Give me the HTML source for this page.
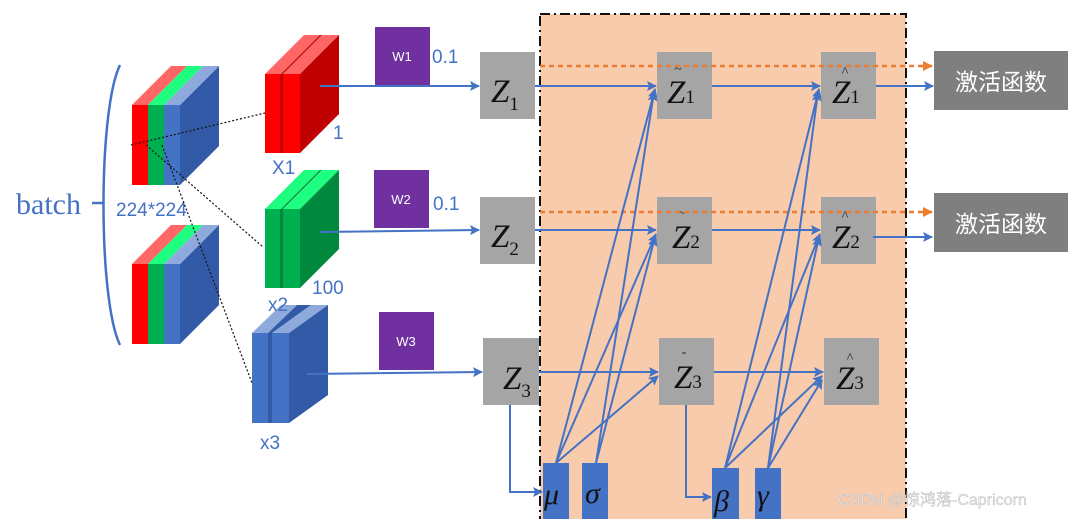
<!DOCTYPE html>
<html><head><meta charset="utf-8"><style>
html,body{margin:0;padding:0;background:#fff;}
svg{display:block;}
.z{font-family:"Liberation Serif",serif;font-style:italic;font-size:33px;fill:#111;}
.zs{font-family:"Liberation Serif",serif;font-size:19px;fill:#111;font-style:normal;}
.lbl{font-family:"Liberation Sans",sans-serif;font-size:19px;fill:#4472C4;}
</style></head><body>
<svg width="1073" height="519" viewBox="0 0 1073 519" xmlns="http://www.w3.org/2000/svg">
<defs>
<marker id="a" markerWidth="10" markerHeight="10" refX="9" refY="5" orient="auto" markerUnits="userSpaceOnUse"><path d="M0,0 L10,5 L0,10 L2,5 Z" fill="#4472C4"/></marker>
<marker id="o" markerWidth="10" markerHeight="10" refX="9" refY="5" orient="auto" markerUnits="userSpaceOnUse"><path d="M0,0 L10,5 L0,10 Z" fill="#ED7D31"/></marker>
</defs>
<rect x="540" y="14" width="366" height="510" fill="#F8CBAD" stroke="#111" stroke-width="2" stroke-dasharray="10,4,2,4"/>

<path d="M120,65 C98,110 98,300 120,345" fill="none" stroke="#4472C4" stroke-width="2.5"/>
<line x1="92" y1="203" x2="104" y2="203" stroke="#4472C4" stroke-width="2.5"/>
<text x="16" y="214" font-family="Liberation Serif,serif" font-size="30" fill="#4472C4">batch</text>
<text x="116" y="216" class="lbl" font-size="20">224*224</text>

<g id="cube">
<polygon points="180,105 219,66 219,146 180,185" fill="#335AA6"/>
<polygon points="132,105 148,105 187,66 171,66" fill="#FF6666"/>
<polygon points="148,105 164,105 203,66 187,66" fill="#1EFF80"/>
<polygon points="164,105 180,105 219,66 203,66" fill="#8EA9DB"/>
<rect x="132" y="105" width="16" height="80" fill="#FF0000"/>
<rect x="148" y="105" width="16" height="80" fill="#00B050"/>
<rect x="164" y="105" width="16" height="80" fill="#4472C4"/>
</g>
<use href="#cube" transform="translate(0,159)"/>

<polygon points="265,74 281,74 320,35 304,35" fill="#FF6666"/>
<rect x="265" y="74" width="15" height="79" fill="#FF0000"/>
<polygon points="281,74 283,74 322,35 320,35" fill="#C00000"/>
<polygon points="283,74 300,74 339,35 322,35" fill="#FF6666"/>
<polygon points="300,74 339,35 339,114 300,153" fill="#C00000"/>
<rect x="283" y="74" width="17" height="79" fill="#FF0000"/>
<rect x="280" y="74" width="3" height="79" fill="#C00000"/>

<polygon points="265,209 281,209 320,170 304,170" fill="#1EFF80"/>
<rect x="265" y="209" width="15" height="79" fill="#00B050"/>
<polygon points="281,209 283,209 322,170 320,170" fill="#00883E"/>
<polygon points="283,209 300,209 339,170 322,170" fill="#1EFF80"/>
<polygon points="300,209 339,170 339,249 300,288" fill="#00883E"/>
<rect x="283" y="209" width="17" height="79" fill="#00B050"/>
<rect x="280" y="209" width="3" height="79" fill="#00883E"/>

<polygon points="252,333 268,333 297,305 281,305" fill="#8EA9DB"/>
<rect x="252" y="333" width="16" height="90" fill="#4472C4"/>
<polygon points="268,333 272,333 311,305 297,305" fill="#335AA6"/>
<polygon points="272,333 289,333 328,305 311,305" fill="#8EA9DB"/>
<polygon points="289,333 328,305 328,395 289,423" fill="#335AA6"/>
<rect x="272" y="333" width="17" height="90" fill="#4472C4"/>
<rect x="268" y="333" width="4" height="90" fill="#335AA6"/>

<g stroke="#111" stroke-width="1.2" stroke-dasharray="2,2" fill="none">
<line x1="131" y1="145" x2="265" y2="113"/>
<line x1="146" y1="145" x2="263" y2="247"/>
<line x1="162" y1="145" x2="252" y2="383"/>
</g>

<text x="333" y="139" class="lbl">1</text>
<text x="272" y="174" class="lbl">X1</text>
<text x="268" y="311" class="lbl">x2</text>
<text x="312" y="294" class="lbl">100</text>
<text x="260" y="449" class="lbl">x3</text>

<rect x="375" y="27" width="55" height="58" fill="#7030A0"/>
<text x="402" y="61" font-family="Liberation Sans,sans-serif" font-size="13" fill="#fff" text-anchor="middle">W1</text>
<text x="432" y="63" class="lbl">0.1</text>
<rect x="374" y="170" width="55" height="58" fill="#7030A0"/>
<text x="401" y="204" font-family="Liberation Sans,sans-serif" font-size="13" fill="#fff" text-anchor="middle">W2</text>
<text x="433" y="210" class="lbl">0.1</text>
<rect x="379" y="312" width="55" height="58" fill="#7030A0"/>
<text x="406" y="346" font-family="Liberation Sans,sans-serif" font-size="13" fill="#fff" text-anchor="middle">W3</text>

<g stroke="#4472C4" stroke-width="2" fill="none" marker-end="url(#a)">
<line x1="320" y1="86" x2="479" y2="86"/>
<line x1="320" y1="232" x2="479" y2="230"/>
<line x1="307" y1="374" x2="482" y2="372"/>
</g>

<g fill="#A5A5A5">
<rect x="480" y="52" width="55" height="67"/><rect x="480" y="197" width="55" height="67"/><rect x="483" y="338" width="56" height="67"/>
<rect x="657" y="52" width="55" height="67"/><rect x="657" y="197" width="55" height="67"/><rect x="659" y="338" width="55" height="67"/>
<rect x="821" y="52" width="55" height="67"/><rect x="821" y="197" width="55" height="67"/><rect x="824" y="338" width="55" height="67"/>
</g>
<text x="491" y="102" class="z">Z<tspan class="zs" dy="8">1</tspan></text>
<text x="491" y="247" class="z">Z<tspan class="zs" dy="8">2</tspan></text>
<text x="503" y="389" class="z">Z<tspan class="zs" dy="8">3</tspan></text>
<text x="667" y="103" class="z">Z<tspan class="zs">1</tspan></text>
<text x="672" y="248" class="z">Z<tspan class="zs">2</tspan></text>
<text x="674" y="388" class="z">Z<tspan class="zs">3</tspan></text>
<text x="832" y="103" class="z">Z<tspan class="zs">1</tspan></text>
<text x="832" y="248" class="z">Z<tspan class="zs">2</tspan></text>
<text x="836" y="389" class="z">Z<tspan class="zs">3</tspan></text>
<g font-family="Liberation Serif,serif" font-size="14" fill="#222" text-anchor="middle">
<text x="678" y="73">~</text><text x="682" y="217">~</text><text x="684" y="356">-</text>
<text x="845" y="76">^</text><text x="845" y="220">^</text><text x="850" y="362">^</text>
</g>

<g stroke="#ED7D31" stroke-width="2.5" stroke-dasharray="5,4" fill="none" marker-end="url(#o)">
<line x1="540" y1="66" x2="932" y2="66"/>
<line x1="540" y1="212" x2="932" y2="212"/>
</g>

<rect x="934" y="51" width="134" height="59" fill="#7F7F7F"/>
<text x="1001" y="90" font-family="Liberation Sans,'Noto Sans CJK SC',sans-serif" font-size="23" fill="#fff" text-anchor="middle">激活函数</text>
<rect x="934" y="193" width="134" height="59" fill="#7F7F7F"/>
<text x="1001" y="232" font-family="Liberation Sans,'Noto Sans CJK SC',sans-serif" font-size="23" fill="#fff" text-anchor="middle">激活函数</text>

<g stroke="#4472C4" stroke-width="2" fill="none" marker-end="url(#a)">
<line x1="535" y1="86" x2="656" y2="86"/>
<line x1="712" y1="86" x2="820" y2="86"/>
<line x1="876" y1="86" x2="933" y2="86"/>
<line x1="535" y1="230" x2="656" y2="230"/>
<line x1="712" y1="230" x2="820" y2="230"/>
<line x1="873" y1="237" x2="932" y2="237"/>
<line x1="539" y1="372" x2="658" y2="372"/>
<line x1="714" y1="372" x2="823" y2="372"/>
<polyline points="510,405 510,492 542,492"/>
<polyline points="686,405 686,497 711,497"/>
<line x1="556" y1="463" x2="655" y2="89"/>
<line x1="556" y1="463" x2="656" y2="234"/>
<line x1="556" y1="463" x2="658" y2="376"/>
<line x1="596" y1="463" x2="654" y2="92"/>
<line x1="596" y1="463" x2="655" y2="237"/>
<line x1="725" y1="468" x2="819" y2="89"/>
<line x1="725" y1="468" x2="820" y2="234"/>
<line x1="725" y1="468" x2="822" y2="376"/>
<line x1="768" y1="468" x2="818" y2="92"/>
<line x1="768" y1="468" x2="819" y2="237"/>
<line x1="768" y1="468" x2="822" y2="380"/>
</g>

<g fill="#4472C4">
<rect x="543" y="463" width="26" height="56"/><rect x="582" y="463" width="26" height="56"/>
<rect x="712" y="468" width="27" height="51"/><rect x="755" y="468" width="26" height="51"/>
</g>
<g font-family="Liberation Serif,serif" font-style="italic" font-size="30" fill="#111">
<text x="544" y="504">μ</text><text x="585" y="503">σ</text><text x="714" y="511">β</text><text x="757" y="505">γ</text>
</g>

<text x="838" y="505" font-family="Liberation Sans,'Noto Sans CJK SC',sans-serif" font-size="16" fill="#e6e6e6" stroke="#aaa" stroke-width="0.3">CSDN @惊鸿落-Capricorn</text>
</svg>
</body></html>
